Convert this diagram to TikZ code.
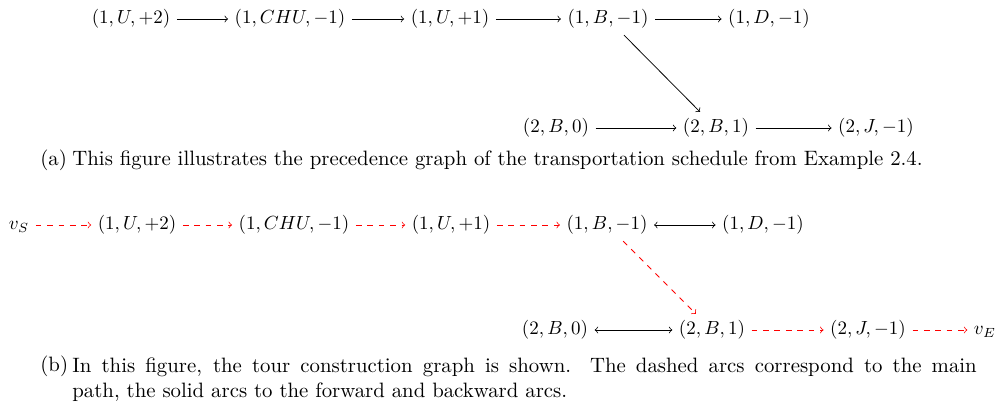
\documentclass[tikz,border=0pt]{standalone}
\usetikzlibrary{arrows}
\begin{document}
\begin{tikzpicture}[x=0.5263pt,y=-0.5263pt,
  st/.style={inner sep=3.3pt,text height=7.5pt,text depth=2.5pt},
  arc/.style={->},
  both/.style={<->},
  mainarc/.style={->,red,dashed},
  captxt/.style={inner sep=0pt,anchor=base west,font=\fontsize{10.95}{13.6}\selectfont}]
\useasboundingbox (0,0) rectangle (995,406);
% (a)
\node[st] (a1) at (131,19) {$(1,U,+2)$};
\node[st] (a2) at (290,19) {$(1,CHU,-1)$};
\node[st] (a3) at (450,19) {$(1,U,+1)$};
\node[st] (a4) at (608,19) {$(1,B,-1)$};
\node[st] (a5) at (769,19) {$(1,D,-1)$};
\node[st] (a6) at (556,128) {$(2,B,0)$};
\node[st] (a7) at (716,128) {$(2,B,1)$};
\node[st] (a8) at (876,128) {$(2,J,-1)$};
\draw[arc] (a1) -- (a2);
\draw[arc] (a2) -- (a3);
\draw[arc] (a3) -- (a4);
\draw[arc] (a4) -- (a5);
\draw[arc] (a4) -- (a7);
\draw[arc] (a6) -- (a7);
\draw[arc] (a7) -- (a8);
\node[captxt] (capal) at (40,166) {(a)};
\node[captxt] (capa) at (72,166) {This figure illustrates the precedence graph of the transportation schedule from Example 2.4.};
% (b)
\node[st] (vs) at (19,225) {$v_S$};
\node[st] (b1) at (137,225) {$(1,U,+2)$};
\node[st] (b2) at (294,225) {$(1,CHU,-1)$};
\node[st] (b3) at (451,225) {$(1,U,+1)$};
\node[st] (b4) at (607,225) {$(1,B,-1)$};
\node[st] (b5) at (763,225) {$(1,D,-1)$};
\node[st] (b6) at (555,330) {$(2,B,0)$};
\node[st] (b7) at (712,330) {$(2,B,1)$};
\node[st] (b8) at (868,330) {$(2,J,-1)$};
\node[st] (ve) at (985,330) {$v_E$};
\draw[mainarc] (vs) -- (b1);
\draw[mainarc] (b1) -- (b2);
\draw[mainarc] (b2) -- (b3);
\draw[mainarc] (b3) -- (b4);
\draw[both] (b4) -- (b5);
\draw[mainarc] (b4) -- (b7);
\draw[both] (b6) -- (b7);
\draw[mainarc] (b7) -- (b8);
\draw[mainarc] (b8) -- (ve);
\node[captxt] (capbl) at (40,371) {(b)};
\node[inner sep=0pt,anchor=north west,text width=476pt,align=justify,font=\fontsize{10.95}{13.6}\selectfont] (capb) at (72,357) {In this figure, the tour construction graph is shown. The dashed arcs correspond to the main\linebreak path, the solid arcs to the forward and backward arcs.};
\end{tikzpicture}
\end{document}
